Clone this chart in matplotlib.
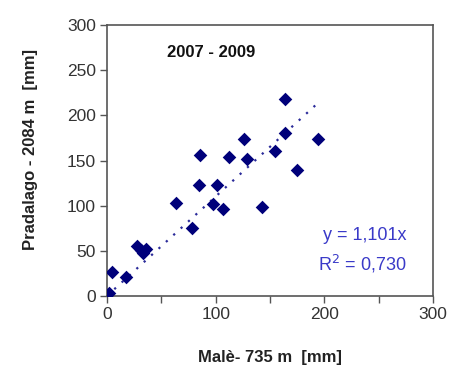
import numpy as np
import matplotlib.pyplot as plt

plt.rcParams['font.family'] = ['Liberation Sans', 'DejaVu Sans']

# rainfall pairs (mm), Malè vs Pradalago, 2007-2009
male = [2, 5, 18, 28, 33, 36, 31, 64, 78, 85, 86, 98, 101, 107, 112, 126, 129, 143, 155, 164, 164, 175, 194]
pradalago = [3, 26, 21, 55, 48, 52, 51, 103, 75, 123, 156, 102, 123, 96, 154, 174, 152, 99, 160, 218, 180, 139, 174]

slope = 1.101
r2 = 0.730

fig = plt.figure(figsize=(4.53, 3.69), dpi=100)
ax = fig.add_axes([0.236, 0.198, 0.72, 0.734])

ax.scatter(male, pradalago, marker='D', s=48, color='#00007a', zorder=3, linewidths=0)

xl = np.array([0, max(male)])
ax.plot(xl, slope * xl, linestyle=(0, (1, 3.5)), color='#2b2b9a', linewidth=1.6, zorder=2)

ax.set_xlim(0, 300)
ax.set_ylim(0, 300)
ax.set_xticks(np.arange(0, 301, 50))
ax.set_xticklabels(['0', '', '100', '', '200', '', '300'])
ax.set_yticks(np.arange(0, 301, 50))
ax.tick_params(direction='out', length=5, width=1, colors='#555555', labelsize=12.5,
               labelcolor='#333333', pad=3)

for s in ax.spines.values():
    s.set_color('#555555')
    s.set_linewidth(1.2)

ax.text(96, 270, '2007 - 2009', fontsize=12, fontweight='bold', ha='center', va='center', color='#111111')
ax.text(276, 67, 'y = 1,101x', fontsize=13, ha='right', va='center', color='#3a3ac8')
ax.text(276, 35, 'R$^2$ = 0,730', fontsize=13, ha='right', va='center', color='#3a3ac8')

ax.set_xlabel('Malè- 735 m  [mm]', fontsize=12, fontweight='bold', color='#222222')
ax.set_ylabel('Pradalago - 2084 m  [mm]', fontsize=12, fontweight='bold', color='#222222')
ax.xaxis.set_label_coords(0.5, -0.2)
ax.yaxis.set_label_coords(-0.21, 0.54)

fig.savefig('out.png', dpi=100)
